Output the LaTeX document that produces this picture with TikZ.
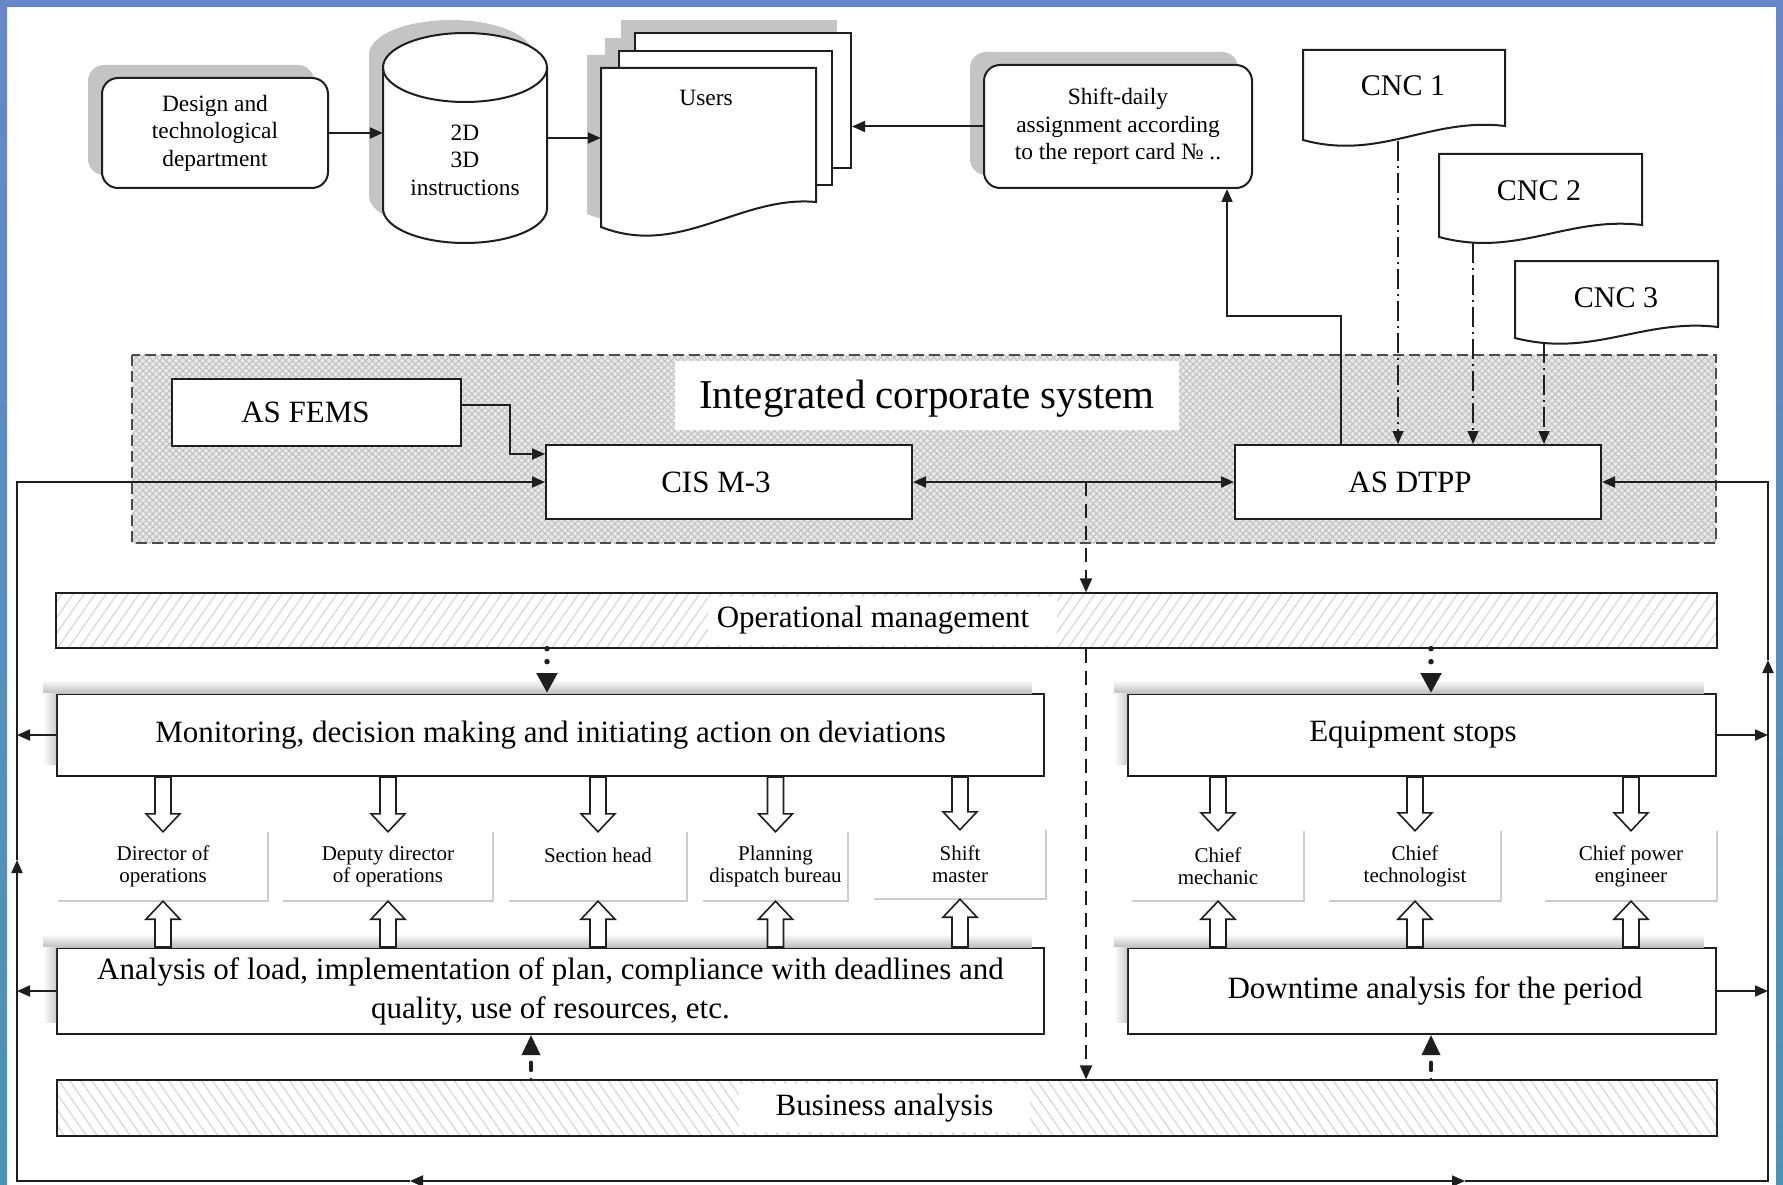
\documentclass[tikz,border=0pt]{standalone}
\usepackage{fontspec}
\setmainfont{Liberation Serif}
\usetikzlibrary{arrows.meta,patterns.meta,calc}
\definecolor{frameblue}{HTML}{6787C9}
\definecolor{frameteal}{HTML}{4A94B3}
\definecolor{ink}{HTML}{1E1E1E}
\definecolor{shadowgray}{HTML}{C4C4C4}
\newcommand\fsBig{\fontsize{41}{48}\selectfont}
\newcommand\fsMain{\fontsize{31}{39}\selectfont}
\newcommand\fsSmall{\fontsize{23.4}{27.5}\selectfont}
\newcommand\fsCell{\fontsize{21}{22}\selectfont}
\newcommand\fsCnc{\fontsize{30}{36}\selectfont}
\newcommand\blockarr[2]{%
  \draw[blockarrow] let \p1=(#1), \p2=(#2), \n1={sign(\y1-\y2)*18} in
   ({\x1-8pt},\y1) -- ({\x1+8pt},\y1) -- ({\x1+8pt},{\y2+(\n1)*1pt}) -- ({\x1+17pt},{\y2+(\n1)*1pt})
   -- (\x1,\y2) -- ({\x1-17pt},{\y2+(\n1)*1pt}) -- ({\x1-8pt},{\y2+(\n1)*1pt}) -- cycle;}
\newcommand\softshadow[1]{%
  \shade[top color=white,bottom color=gray!50] let \p1=(#1.north west),\p2=(#1.north east) in
    ({\x1-13pt},{\y1+13pt}) rectangle ({\x2-13pt},\y1);
  \shade[left color=white,right color=gray!40] let \p1=(#1.north west),\p2=(#1.south west) in
    ({\x1-13pt},\y1) rectangle (\x1,{\y2+13pt});}
\def\cylbody{(383,67.5) -- (383,208.5) .. controls (383,227.55) and (419.7,243) .. (465,243) .. controls (510.3,243) and (547,227.55) .. (547,208.5) -- (547,67.5) .. controls (547,48.45) and (510.3,33) .. (465,33) .. controls (419.7,33) and (383,48.45) .. (383,67.5) -- cycle}
\def\pageone{(601,68) -- (816,68) -- (816,202) .. controls (740,195) and (680,258) .. (601,227) -- cycle}
\tikzset{
  box/.style={draw=ink, line width=2pt, fill=white, inner sep=0pt, align=center},
  rbox/.style={box, rounded corners=16pt},
  bar/.style={draw=ink, line width=2pt, inner sep=0pt, pattern={Lines[angle=#1,distance=9pt,line width=1.3pt]}, pattern color=gray!30},
  lbl/.style={inner sep=0pt, align=center},
  cell/.style={inner sep=0pt, align=center, font=\fsCell},
  cellline/.style={draw=gray!40, line width=1.5pt},
  arr/.style={draw=ink, line width=2pt, -{Triangle[length=13pt,width=11pt]}},
  dblarr/.style={draw=ink, line width=2pt, {Triangle[length=13pt,width=11pt]}-{Triangle[length=13pt,width=11pt]}},
  dashv/.style={draw=ink, line width=2pt, dash pattern=on 14pt off 8pt, -{Triangle[length=14pt,width=12pt]}},
  cncline/.style={draw=ink, line width=1.5pt, dash pattern=on 20pt off 5pt on 2pt off 5pt, -{Triangle[length=13pt,width=11pt]}},
  dotarr/.style={draw=ink, line width=5.5pt, line cap=round, dash pattern=on 0pt off 13pt, -{Triangle[length=20pt,width=20pt]}},
  dasharrow/.style={draw=ink, line width=3.5pt, line cap=round, dash pattern=on 0pt off 9pt on 8pt off 9pt, -{Triangle[length=20pt,width=18pt]}},
  blockarrow/.style={draw=ink, fill=white, line width=1.6pt, line join=miter},
  shadowfill/.style={fill=shadowgray},
  shapeline/.style={draw=ink, line width=2pt, fill=white},
}
\begin{document}
\begin{tikzpicture}[x=1pt,y=-1pt]
\useasboundingbox (0,0) rectangle (1783,1185);
\fill[white] (0,0) rectangle (1783,1185);
% blue frame
\fill[frameblue] (0,0) rectangle (1783,7);
\shade[top color=frameblue, bottom color=frameteal] (0,0) rectangle (7,1185);
\shade[top color=frameblue, bottom color=frameteal] (1776,0) rectangle (1783,1185);

% ---------- top row ----------
\fill[shadowfill, rounded corners=16pt] (88,65) rectangle (314,175);
\node[rbox, minimum width=226pt, minimum height=110pt, font=\fsSmall] (design) at (215,133) {Design and\\technological\\department};

\fill[shadowfill, shift={(-14,-13)}] \cylbody;
\draw[shapeline] \cylbody;
\draw[ink, line width=2pt] (383,67.5) .. controls (383,86.55) and (419.7,102) .. (465,102) .. controls (510.3,102) and (547,86.55) .. (547,67.5);
\node[minimum width=164pt, minimum height=210pt, inner sep=0pt] (cyl) at (465,138) {};
\node[lbl, font=\fsSmall] (cyltext) at (465,160) {2D\\3D\\instructions};

\fill[shadowfill] (621,20) rectangle (837,155);
\fill[shadowfill] (605,38) rectangle (818,172);
\fill[shadowfill, shift={(-14,-13)}] \pageone;
\node[box, minimum width=216pt, minimum height=135pt] (pg3) at (743,100.5) {};
\node[box, minimum width=213pt, minimum height=134pt] (pg2) at (725.5,118) {};
\draw[shapeline] \pageone;
\node[minimum width=215pt, minimum height=134pt, inner sep=0pt] (pg1) at (708.5,135) {};
\node[lbl, font=\fsSmall] (userstext) at (706,98) {Users};

\fill[shadowfill, rounded corners=16pt] (970,52) rectangle (1238,175);
\node[rbox, minimum width=268pt, minimum height=123pt, font=\fsSmall] (shift) at (1118,126.5) {Shift-daily\\assignment according\\to the report card № ..};

% CNC documents
\draw[shapeline] (1303,50) -- (1505,50) -- (1505,126) .. controls (1430,117) and (1380,161) .. (1303,140) -- cycle;
\draw[shapeline] (1439,154) -- (1642,154) -- (1642,225) .. controls (1567,216) and (1517,258) .. (1439,237) -- cycle;
\draw[shapeline] (1515,261) -- (1718,261) -- (1718,327) .. controls (1643,318) and (1593,358) .. (1515,338) -- cycle;
\node[lbl, font=\fsCnc] (cnc1) at (1403,86) {CNC 1};
\node[lbl, font=\fsCnc] (cnc2) at (1539,191) {CNC 2};
\node[lbl, font=\fsCnc] (cnc3) at (1616,298) {CNC 3};
\coordinate (c1s) at (1398,141);
\coordinate (c2s) at (1473,243);
\coordinate (c3s) at (1544,343);

% ---------- integrated corporate system ----------
\fill[gray!18] (132,355) rectangle (1716,543);
\fill[pattern={Lines[angle=45,distance=4.7pt,line width=0.9pt]}, pattern color=gray!50] (132,355) rectangle (1716,543);
\fill[pattern={Lines[angle=-45,distance=4.7pt,line width=0.9pt]}, pattern color=gray!50] (132,355) rectangle (1716,543);
\draw[draw=black!70, line width=2.5pt, dash pattern=on 11pt off 5pt] (132,355) rectangle (1716,543);
\node[fill=white, minimum width=504pt, minimum height=69pt, inner sep=0pt, font=\fsBig] (icslabel) at (927,395.5) {\raisebox{-13pt}[0pt][0pt]{Integrated corporate system}};
\node[box, minimum width=289pt, minimum height=67pt, font=\fsMain] (fems) at (316.5,412.5) {\hspace*{-22pt}AS FEMS};
\node[box, minimum width=366pt, minimum height=74pt, font=\fsMain] (cis) at (729,482) {\hspace*{-26pt}CIS M-3};
\node[box, minimum width=366pt, minimum height=74pt, font=\fsMain] (dtpp) at (1418,482) {\hspace*{-16pt}AS DTPP};

% ---------- bars and boxes ----------
\node[bar=55, minimum width=1661pt, minimum height=55pt] (opbar) at (886.5,620.5) {};
\node[fill=white, minimum width=349pt, minimum height=48pt, inner sep=0pt, font=\fsMain] (oplabel) at (882.5,620.5) {\hspace*{-19pt}Operational management};
\node[bar=125, minimum width=1660pt, minimum height=56pt] (bus) at (887,1108) {};
\node[fill=white, minimum width=291pt, minimum height=48pt, inner sep=0pt, font=\fsMain] (buslabel) at (884.5,1108) {Business analysis};

\node[box, minimum width=987pt, minimum height=82pt, font=\fsMain] (mon) at (550.5,735) {Monitoring, decision making and initiating action on deviations};
\node[box, minimum width=588pt, minimum height=82pt, font=\fsMain] (eq) at (1422,735) {\hspace*{-18pt}Equipment stops};
\node[box, minimum width=987pt, minimum height=86pt, font=\fsMain] (ana) at (550.5,991) {Analysis of load, implementation of plan, compliance with deadlines and\\quality, use of resources, etc.};
\node[box, minimum width=588pt, minimum height=86pt, font=\fsMain] (down) at (1422,991) {\hspace*{26pt}Downtime analysis for the period};
\softshadow{mon}
\softshadow{eq}
\softshadow{ana}
\softshadow{down}

% role cells
\node[cell, minimum width=210pt, minimum height=69pt] (r1) at (163,866.5) {Director of\\operations};
\node[cell, minimum width=210pt, minimum height=69pt] (r2) at (388,866.5) {Deputy director\\of operations};
\node[cell, minimum width=178pt, minimum height=69pt] (r3) at (598,866.5) {Section head\\\phantom{x}};
\node[cell, minimum width=145pt, minimum height=69pt] (r4) at (775.5,866.5) {Planning\\dispatch bureau};
\node[cell, minimum width=172pt, minimum height=69pt] (r5) at (960,864.5) {Shift\\master};
\node[cell, minimum width=172pt, minimum height=70pt] (r6) at (1218,866) {Chief\\mechanic};
\node[cell, minimum width=172pt, minimum height=70pt] (r7) at (1415,866) {Chief\\technologist};
\node[cell, minimum width=172pt, minimum height=70pt] (r8) at (1631,866) {Chief power\\engineer};
\foreach \c in {r1,r2,r3,r4,r5,r6,r7,r8}
  \draw[cellline] (\c.north east) -- (\c.south east) -- (\c.south west);

% block arrows
\foreach \c in {r1,r2,r3,r4,r5} {
  \blockarr{mon.south -| \c}{\c.north}
  \blockarr{ana.north -| \c}{\c.south}
}
\foreach \c in {r6,r7,r8} {
  \blockarr{eq.south -| \c}{\c.north}
  \blockarr{down.north -| \c}{\c.south}
}

% ---------- connectors ----------
\draw[arr] (design.east) -- (design.east -| cyl.west);
\draw[arr] (cyl.east) -- (cyl.east -| pg1.west);
\draw[arr] (shift.west) -- (shift.west -| pg3.east);
\draw[arr] ([xshift=-77pt]dtpp.north) -- ++(0,-128) -| ([xshift=109pt]shift.south);
\draw[cncline] (c1s) -- (c1s |- dtpp.north);
\draw[cncline] (c2s) -- (c2s |- dtpp.north);
\draw[cncline] (c3s) -- (c3s |- dtpp.north);
\draw[arr] ([yshift=8pt]fems.east) -- ++(48,0) |- ([yshift=28pt]cis.west);
\draw[dblarr] (cis.east) -- (dtpp.west);

\coordinate (dj) at (1086,482);
\draw[dashv] (dj) -- (dj |- opbar.north);
\draw[dashv] (dj |- opbar.south) -- (dj |- bus.north);

\coordinate (d1) at (547,0);
\coordinate (d2) at (1431,0);
\coordinate (d3) at (531,0);
\draw[dotarr] (opbar.south -| d1) -- (mon.north -| d1);
\draw[dotarr] (opbar.south -| d2) -- (eq.north -| d2);
\draw[dasharrow] (bus.north -| d3) -- (ana.south -| d3);
\draw[dasharrow] (bus.north -| d2) -- (down.south -| d2);

% outer loop
\coordinate (bm) at (938,1181);
\coordinate (bl1) at (410,1181);
\coordinate (lb) at (17,1181);
\coordinate (lu) at (17,860);
\coordinate (l1) at (17,482);
\coordinate (br1) at (1465,1181);
\coordinate (rb) at (1768,1181);
\coordinate (ru) at (1768,660);
\coordinate (rr1) at (1768,482);
\draw[arr] (bm) -- (bl1);
\draw[arr] (bl1) -- (lb) -- (lu);
\draw[arr] (lu) -- (l1) -- (cis.west);
\draw[arr] (bm) -- (br1);
\draw[arr] (br1) -- (rb) -- (ru);
\draw[arr] (ru) -- (rr1) -- (dtpp.east);

\draw[arr] (mon.west) -- (mon.west -| l1);
\draw[arr] (ana.west) -- (ana.west -| l1);
\draw[arr] (eq.east) -- (eq.east -| rr1);
\draw[arr] (down.east) -- (down.east -| rr1);
\end{tikzpicture}
\end{document}
